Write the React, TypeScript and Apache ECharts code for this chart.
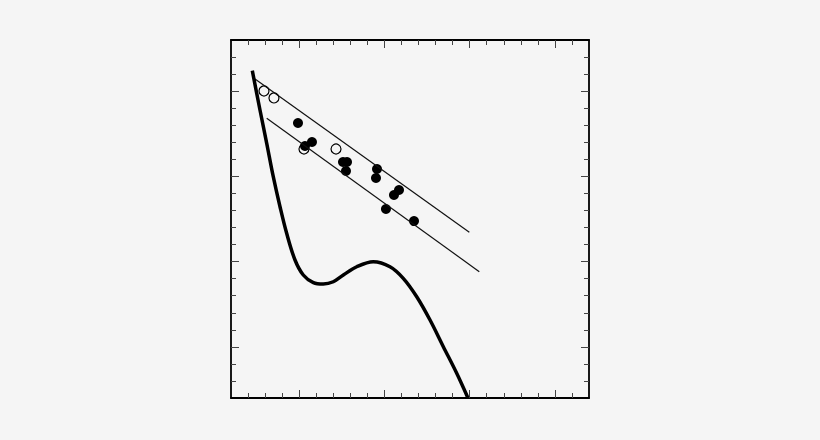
import { useEffect, useRef } from 'react';
import * as echarts from 'echarts';

// thick model curve
const curveX = [-0.55, -0.46, -0.381, -0.304, -0.225, -0.147, -0.049, 0.048, 0.166, 0.283, 0.4, 0.518, 0.675, 0.869, 1.065, 1.221, 1.379, 1.535, 1.691, 1.848, 1.98];
const curveY = [3.24, 2.779, 2.388, 1.996, 1.644, 1.332, 1.019, 0.843, 0.753, 0.737, 0.764, 0.843, 0.94, 0.999, 0.94, 0.804, 0.588, 0.315, 0.002, -0.31, -0.6];

// thin bounding lines (start, end)
const upperX = [-0.518, 1.996];
const upperY = [3.142, 1.344];
const lowerX = [-0.381, 2.113];
const lowerY = [2.681, 0.882];

// open circles
const openX = [-0.413, -0.296, 0.432, 0.056];
const openY = [3.002, 2.92, 2.321, 2.321];

// filled circles
const filledX = [-0.014, 0.068, 0.15, 0.514, 0.561, 0.549, 0.913, 0.901, 1.171, 1.112, 1.018, 1.347];
const filledY = [2.626, 2.356, 2.403, 2.169, 2.169, 2.063, 2.087, 1.981, 1.84, 1.782, 1.617, 1.476];

// axis ticks
const xMinorTicks = [-0.6, -0.4, -0.2, 0, 0.2, 0.4, 0.6, 0.8, 1, 1.2, 1.4, 1.6, 1.8, 2, 2.2, 2.4, 2.6, 2.8, 3, 3.2];
const xMajorTicks = [0, 1, 2, 3];
const yMinorTicks = [-0.4, -0.2, 0, 0.2, 0.4, 0.6, 0.8, 1, 1.2, 1.4, 1.6, 1.8, 2, 2.2, 2.4, 2.6, 2.8, 3, 3.2, 3.4];
const yMajorTicks = [0, 1, 2, 3];

const X_MIN = -0.8;
const X_MAX = 3.4;
const Y_MIN = -0.6;
const Y_MAX = 3.6;

const zip = (xs: number[], ys: number[]) => xs.map((x, i) => [x, ys[i]]);

function makeAxis(
  position: string,
  min: number,
  max: number,
  ticks: number[],
  len: number,
  showLine: boolean,
) {
  return {
    type: 'value',
    position,
    min,
    max,
    axisLine: { show: showLine, onZero: false, lineStyle: { color: '#000', width: 1.8 } },
    axisTick: {
      show: true,
      inside: true,
      length: len,
      customValues: ticks,
      lineStyle: { color: '#444', width: 1 },
    },
    axisLabel: { show: false },
    splitLine: { show: false },
  };
}

export default function App() {
  const chartRef = useRef<HTMLDivElement>(null);

  useEffect(() => {
    if (!chartRef.current) return;
    const chart = echarts.init(chartRef.current, undefined, { renderer: 'svg' });

    const option = {
      animation: false,
      backgroundColor: '#f5f5f5',
      grid: { left: 231, top: 40, width: 358, height: 358 },
      xAxis: [
        makeAxis('bottom', X_MIN, X_MAX, xMinorTicks, 5, true),
        makeAxis('bottom', X_MIN, X_MAX, xMajorTicks, 8, false),
        makeAxis('top', X_MIN, X_MAX, xMinorTicks, 5, true),
        makeAxis('top', X_MIN, X_MAX, xMajorTicks, 8, false),
      ],
      yAxis: [
        makeAxis('left', Y_MIN, Y_MAX, yMinorTicks, 5, true),
        makeAxis('left', Y_MIN, Y_MAX, yMajorTicks, 8, false),
        makeAxis('right', Y_MIN, Y_MAX, yMinorTicks, 5, true),
        makeAxis('right', Y_MIN, Y_MAX, yMajorTicks, 8, false),
      ],
      series: [
        {
          type: 'line',
          data: zip(upperX, upperY),
          symbol: 'none',
          lineStyle: { color: '#111', width: 1.2 },
        },
        {
          type: 'line',
          data: zip(lowerX, lowerY),
          symbol: 'none',
          lineStyle: { color: '#111', width: 1.2 },
        },
        {
          type: 'line',
          data: zip(curveX, curveY),
          symbol: 'none',
          smooth: 0.35,
          lineStyle: { color: '#000', width: 3.5 },
        },
        {
          type: 'scatter',
          data: zip(openX, openY),
          symbol: 'circle',
          symbolSize: 10,
          itemStyle: { color: '#f5f5f5', borderColor: '#000', borderWidth: 1.2, opacity: 1 },
        },
        {
          type: 'scatter',
          data: zip(filledX, filledY),
          symbol: 'circle',
          symbolSize: 10,
          itemStyle: { color: '#000', opacity: 1 },
        },
      ],
    };

    chart.setOption(option as echarts.EChartsOption);

    return () => {
      chart.dispose();
    };
  }, []);

  return (
    <div
      ref={chartRef}
      style={{ position: 'fixed', left: 0, top: 0, width: '820px', height: '440px' }}
    />
  );
}
